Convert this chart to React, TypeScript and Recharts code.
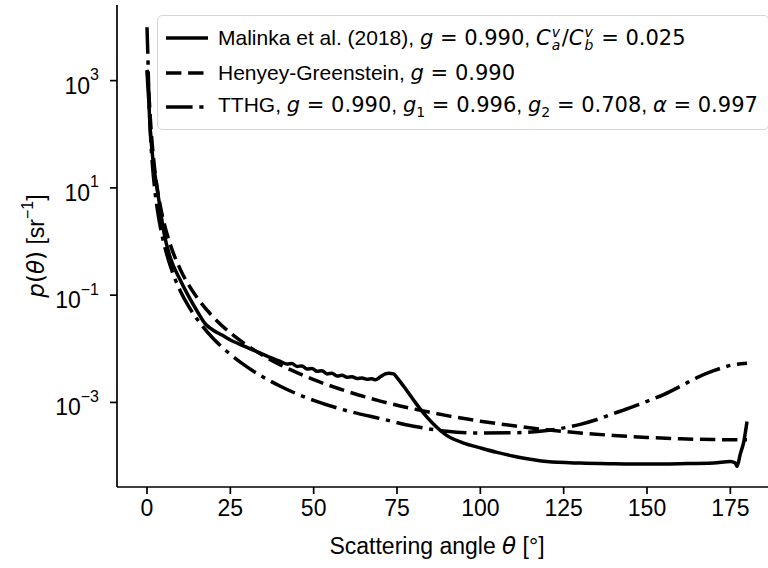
import React from 'react';
import { LineChart, Line, XAxis, YAxis, Legend } from 'recharts';

const X_TICKS = [0, 25, 50, 75, 100, 125, 150, 175];
const Y_TICKS = [1e-3, 1e-1, 1e1, 1e3];
const X_DOMAIN = [-9, 189];
const Y_DOMAIN = [2.65e-5, 2.57e4];

// Malinka et al. (2018)
const malinkaTheta = [
  0, 0.25, 0.5, 1, 1.5, 2, 3, 4, 5, 7, 10, 12.5, 15, 17.5, 20, 22.5, 25, 27.5, 30, 32.5,
  35, 37.5, 40, 42, 43.5, 45, 46.5, 48, 49.5, 51, 52.5, 54, 55.5, 57, 58.5, 60, 61.5, 63, 64.5, 66,
  67.5, 68.5, 70, 71.5, 72.5, 74, 75, 77, 80, 82, 84, 86, 88, 90, 95, 100, 105, 110, 115, 120,
  130, 140, 150, 160, 170, 175, 176.5, 177, 178, 179, 180,
];
const malinkaP = [
  1500, 800, 450, 115, 50, 26, 10, 3.9, 1.55, 0.5, 0.19, 0.095, 0.051, 0.029, 0.022, 0.018, 0.0146, 0.0124, 0.0106, 0.0091,
  0.0078, 0.0067, 0.0058, 0.0052, 0.0053, 0.0047, 0.0048, 0.0042, 0.0043, 0.0038, 0.0039, 0.0034, 0.0035, 0.0031, 0.0032, 0.00295, 0.003, 0.0028, 0.00285, 0.0027,
  0.00275, 0.00265, 0.003, 0.0034, 0.0035, 0.0034, 0.0029, 0.002, 0.0011, 0.00075, 0.00053, 0.00039, 0.0003, 0.00024, 0.000175, 0.000142, 0.000117, 0.0000995, 0.000087, 0.000079,
  0.000074, 0.000072, 0.000071, 0.000072, 0.000074, 0.000079, 0.000074, 0.000064, 0.00011, 0.00018, 0.00044,
];

// Henyey-Greenstein, g = 0.990
const hgTheta = [
  0, 0.25, 0.5, 1, 1.5, 2, 3, 4, 5, 7, 10, 12.5, 15, 20, 25, 30, 35, 40, 45, 50,
  60, 70, 80, 90, 100, 110, 120, 130, 140, 150, 160, 170, 180,
];
const hgP = [
  1584, 1222, 682, 197, 72.9, 33.7, 10.6, 4.58, 2.37, 0.874, 0.302, 0.155, 0.0902, 0.0383, 0.0198, 0.0116, 0.00739, 0.00502, 0.00359, 0.00266,
  0.00161, 0.00106, 0.000757, 0.000568, 0.000447, 0.000366, 0.000309, 0.00027, 0.000242, 0.000223, 0.00021, 0.000203, 0.000201,
];

// TTHG
const tthgTheta = [
  0, 0.25, 0.5, 1, 1.5, 2, 3, 4, 5, 7, 10, 12.5, 15, 20, 25, 30, 40, 50, 60, 70,
  80, 90, 100, 110, 120, 130, 135, 140, 145, 150, 155, 160, 165, 170, 175, 180,
];
const tthgP = [
  9900, 3065, 720, 111, 34.3, 14.7, 4.4, 1.87, 0.957, 0.35, 0.12, 0.0617, 0.0358, 0.0152, 0.0079, 0.0046, 0.002, 0.00109, 0.0007, 0.0005,
  0.00036, 0.00029, 0.000268, 0.000272, 0.0003, 0.00039, 0.00048, 0.00062, 0.0008, 0.00105, 0.0014, 0.002, 0.0029, 0.0039, 0.0049, 0.0054,
];

const zip = (t: number[], p: number[]) => t.map((theta, i) => ({ theta, p: p[i] }));
const malinkaData = zip(malinkaTheta, malinkaP);
const hgData = zip(hgTheta, hgP);
const tthgData = zip(tthgTheta, tthgP);

const SANS = '"Liberation Sans", Arial, sans-serif';
const MATH = '"DejaVu Sans", sans-serif';
const FS = 23;
const LW = 3.5;
const DASHED = '15.4 6.7';
const DASHDOT = '26.6 6.7 4.2 6.7';

const expLabel = (v: number) => {
  const e = Math.round(Math.log10(v));
  return e < 0 ? '\u2212' + Math.abs(e) : String(e);
};

const YTick = ({ x, y, payload }: any) => (
  <text x={x - 9} y={y + 13} textAnchor="end" fontFamily={SANS} fontSize={FS} fill="#000">
    10<tspan dy={-13.5} fontSize={16}>{expLabel(payload.value)}</tspan>
  </text>
);

const XTick = ({ x, y, payload }: any) => (
  <text x={x} y={y + 20} textAnchor="middle" fontFamily={SANS} fontSize={FS} fill="#000">
    {payload.value}
  </text>
);

const XLabel = ({ viewBox }: any) => (
  <text
    x={viewBox.x + viewBox.width / 2 - 10}
    y={viewBox.y + 67}
    textAnchor="middle"
    fontFamily={SANS}
    fontSize={FS}
    fill="#000"
  >
    Scattering angle <tspan fontFamily={MATH} fontStyle="italic">θ</tspan> [°]
  </text>
);

const YLabel = () => (
  <text
    x={36}
    y={246}
    transform="rotate(-90, 36, 246)"
    textAnchor="middle"
    dominantBaseline="central"
    fontFamily={SANS}
    fontSize={FS}
    fill="#000"
  >
    <tspan fontFamily={MATH} fontStyle="italic">p</tspan>
    <tspan fontFamily={MATH}>(</tspan>
    <tspan fontFamily={MATH} fontStyle="italic">θ</tspan>
    <tspan fontFamily={MATH}>)</tspan> [sr
    <tspan dy={-9} fontSize={16}>−1</tspan>
    <tspan dy={9}>]</tspan>
  </text>
);

const M = ({ children, italic }: any) => (
  <span style={{ fontFamily: MATH, fontStyle: italic ? 'italic' : 'normal' }}>{children}</span>
);

const scriptStyle: React.CSSProperties = {
  position: 'absolute',
  left: 0,
  fontSize: 14,
  lineHeight: '14px',
};

const CV = ({ sub }: { sub: string }) => (
  <span style={{ fontFamily: MATH, fontStyle: 'italic' }}>
    C
    <span style={{ display: 'inline-block', position: 'relative', width: 10, height: 1, marginLeft: 1 }}>
      <span style={{ ...scriptStyle, bottom: 6 }}>v</span>
      <span style={{ ...scriptStyle, top: -6 }}>{sub}</span>
    </span>
  </span>
);

const legendRows = [
  {
    dash: undefined,
    label: (
      <>
        Malinka et al. (2018), <M italic>g</M>
        <M> = 0.990</M>, <CV sub="a" />
        <M>/</M>
        <CV sub="b" />
        <M> = 0.025</M>
      </>
    ),
  },
  {
    dash: DASHED,
    label: (
      <>
        Henyey-Greenstein, <M italic>g</M>
        <M> = 0.990</M>
      </>
    ),
  },
  {
    dash: DASHDOT,
    label: (
      <>
        TTHG, <M italic>g</M>
        <M> = 0.990</M>, <M italic>g</M>
        <M>
          <sub style={{ fontSize: 14 }}>1</sub> = 0.996
        </M>
        , <M italic>g</M>
        <M>
          <sub style={{ fontSize: 14 }}>2</sub> = 0.708
        </M>
        , <M italic>α</M>
        <M> = 0.997</M>
      </>
    ),
  },
];

const renderLegend = () => (
  <div
    style={{
      display: 'inline-block',
      border: '1.5px solid #d5d5d5',
      borderRadius: 5,
      background: 'rgba(255,255,255,0.8)',
      padding: '9px 10px 9px 8px',
      fontFamily: SANS,
      fontSize: 21,
      color: '#000',
      whiteSpace: 'nowrap',
    }}
  >
    {legendRows.map((row, i) => (
      <div
        key={i}
        style={{ display: 'flex', alignItems: 'center', height: 26, marginTop: i ? 8.5 : 0 }}
      >
        <svg width={42} height={26} style={{ marginRight: 10 }}>
          <line x1={0} y1={13} x2={42} y2={13} stroke="#000" strokeWidth={LW} strokeDasharray={row.dash} />
        </svg>
        <span>{row.label}</span>
      </div>
    ))}
  </div>
);

export default function App() {
  return (
    <div
      style={{
        position: 'fixed',
        left: 0,
        top: 0,
        width: 768,
        height: 568,
        overflow: 'hidden',
        background: '#fff',
      }}
    >
      <LineChart width={790} height={568} margin={{ top: 5, right: 13, bottom: 0, left: 0 }}>
        <XAxis
          xAxisId="top"
          orientation="top"
          type="number"
          domain={X_DOMAIN}
          height={0}
          tick={false}
          tickLine={false}
          axisLine={{ stroke: '#000', strokeWidth: 1.7 }}
        />
        <XAxis
          dataKey="theta"
          type="number"
          domain={X_DOMAIN}
          ticks={X_TICKS}
          allowDataOverflow
          height={81}
          tickSize={7}
          tickMargin={2}
          tick={<XTick />}
          tickLine={{ stroke: '#000', strokeWidth: 1.7 }}
          axisLine={{ stroke: '#000', strokeWidth: 1.7 }}
          label={<XLabel />}
        />
        <YAxis
          type="number"
          scale="log"
          domain={Y_DOMAIN}
          ticks={Y_TICKS}
          allowDataOverflow
          width={117}
          tickSize={7}
          tickMargin={2}
          tick={<YTick />}
          tickLine={{ stroke: '#000', strokeWidth: 1.7 }}
          axisLine={{ stroke: '#000', strokeWidth: 1.7 }}
          label={<YLabel />}
        />
        <Legend
          layout="vertical"
          align="center"
          verticalAlign="middle"
          wrapperStyle={{ top: 15, left: 157, width: 'auto' }}
          content={renderLegend}
        />
        <Line
          data={malinkaData}
          dataKey="p"
          type="monotone"
          stroke="#000"
          strokeWidth={LW}
          dot={false}
          activeDot={false}
          isAnimationActive={false}
        />
        <Line
          data={hgData}
          dataKey="p"
          type="monotone"
          stroke="#000"
          strokeWidth={LW}
          strokeDasharray={DASHED}
          dot={false}
          activeDot={false}
          isAnimationActive={false}
        />
        <Line
          data={tthgData}
          dataKey="p"
          type="monotone"
          stroke="#000"
          strokeWidth={LW}
          strokeDasharray={DASHDOT}
          dot={false}
          activeDot={false}
          isAnimationActive={false}
        />
      </LineChart>
    </div>
  );
}
